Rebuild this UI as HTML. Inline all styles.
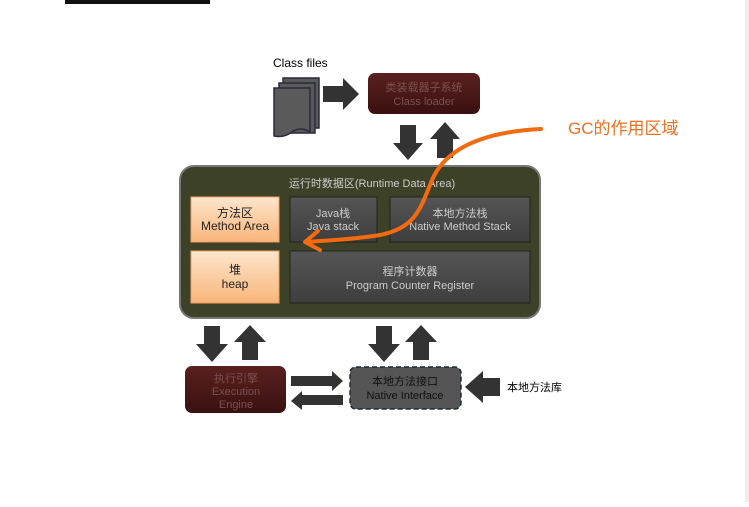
<!DOCTYPE html>
<html><head><meta charset="utf-8"><style>
html,body{margin:0;padding:0;background:#fff;}
svg text{font-family:"Liberation Sans","Noto Sans CJK SC",sans-serif;}
</style></head><body>
<svg width="749" height="502" viewBox="0 0 749 502" xmlns="http://www.w3.org/2000/svg">
<defs>
<linearGradient id="org" x1="0" y1="0" x2="0" y2="1"><stop offset="0" stop-color="#fde6cc"/><stop offset="1" stop-color="#f9b57a"/></linearGradient>
<linearGradient id="gry" x1="0" y1="0" x2="0" y2="1"><stop offset="0" stop-color="#555"/><stop offset="1" stop-color="#3e3e3e"/></linearGradient>
<linearGradient id="red" x1="0" y1="0" x2="0" y2="1"><stop offset="0" stop-color="#5a2020"/><stop offset="1" stop-color="#3a1010"/></linearGradient>
</defs>
<rect x="745" y="0" width="4" height="502" fill="#eee"/>
<rect x="65" y="0" width="145" height="4" fill="#111"/>
<text x="273" y="67" font-size="12" fill="#000">Class files</text>
<!-- files -->
<g fill="#5a5a5a" stroke="#2a2a3a" stroke-width="1.5">
<path d="M283 78h36v50h-36z"/>
<path d="M279 83h36v50h-36z"/>
<path d="M274 88h36v44q-10 -6 -18 0t-18 4z"/>
</g>
<!-- arrow right -->
<polygon points="323,86 343,86 343,78 359,94 343,110 343,102 323,102" fill="#333"/>
<rect x="368" y="73" width="112" height="41" rx="7" fill="url(#red)"/>
<text x="424" y="91" font-size="11" fill="#7a5050" text-anchor="middle">类装载器子系统</text>
<text x="424" y="105" font-size="11" fill="#7a5050" text-anchor="middle">Class loader</text>
<!-- arrows -->
<polygon points="400,125 416,125 416,143 423,143 408,160 393,143 400,143" fill="#333"/>
<polygon points="437,158 453,158 453,139 460,139 445,122 430,139 437,139" fill="#333"/>
<!-- runtime area -->
<rect x="180" y="166" width="360" height="152" rx="14" fill="#3d4127" stroke="#777" stroke-width="2"/>
<text x="372" y="187" font-size="11" fill="#ccc" text-anchor="middle">运行时数据区(Runtime Data Area)</text>
<rect x="191" y="197" width="88" height="45" fill="url(#org)" stroke="#f0a060"/>
<text x="235" y="217" font-size="12" fill="#222" text-anchor="middle">方法区</text>
<text x="235" y="230" font-size="12" fill="#222" text-anchor="middle">Method Area</text>
<rect x="191" y="251" width="88" height="52" fill="url(#org)" stroke="#f0a060"/>
<text x="235" y="274" font-size="12" fill="#222" text-anchor="middle">堆</text>
<text x="235" y="288" font-size="12" fill="#222" text-anchor="middle">heap</text>
<rect x="290" y="197" width="87" height="45" fill="url(#gry)" stroke="#222"/>
<text x="333" y="217" font-size="11" fill="#ccc" text-anchor="middle">Java栈</text>
<text x="333" y="230" font-size="11" fill="#ccc" text-anchor="middle">Java stack</text>
<rect x="390" y="197" width="140" height="45" fill="url(#gry)" stroke="#222"/>
<text x="460" y="217" font-size="11" fill="#ccc" text-anchor="middle">本地方法栈</text>
<text x="460" y="230" font-size="11" fill="#ccc" text-anchor="middle">Native Method Stack</text>
<rect x="290" y="251" width="240" height="52" fill="url(#gry)" stroke="#222"/>
<text x="410" y="275" font-size="11" fill="#ccc" text-anchor="middle">程序计数器</text>
<text x="410" y="289" font-size="11" fill="#ccc" text-anchor="middle">Program Counter Register</text>
<!-- lower arrows -->
<polygon points="204,326 220,326 220,344 228,344 212,362 196,344 204,344" fill="#333"/>
<polygon points="242,360 258,360 258,342 266,342 250,325 234,342 242,342" fill="#333"/>
<polygon points="376,326 392,326 392,344 400,344 384,362 368,344 376,344" fill="#333"/>
<polygon points="413,360 429,360 429,342 437,342 421,325 405,342 413,342" fill="#333"/>
<rect x="185" y="366" width="101" height="47" rx="7" fill="url(#red)"/>
<text x="236" y="382" font-size="11" fill="#7a5050" text-anchor="middle">执行引擎</text>
<text x="236" y="395" font-size="11" fill="#7a5050" text-anchor="middle">Execution</text>
<text x="236" y="408" font-size="11" fill="#7a5050" text-anchor="middle">Engine</text>
<polygon points="291,376 332,376 332,371 343,381 332,391 332,386 291,386" fill="#333"/>
<polygon points="343,395 302,395 302,391 291,401 302,410 302,405 343,405" fill="#333"/>
<rect x="350" y="367" width="111" height="42" rx="6" fill="#555" stroke="#1e2a3a" stroke-width="1.5" stroke-dasharray="5,3"/>
<text x="405" y="385" font-size="11" fill="#111" text-anchor="middle">本地方法接口</text>
<text x="405" y="399" font-size="11" fill="#111" text-anchor="middle">Native Interface</text>
<polygon points="500,378 483,378 483,371 465,387 483,403 483,396 500,396" fill="#333"/>
<text x="507" y="391" font-size="11" fill="#000">本地方法库</text>
<!-- GC -->
<text x="568" y="134" font-size="17" fill="#f07020">GC的作用区域</text>
<path d="M541 129 C480 132 445 150 432 180 C420 210 415 228 380 235 C350 240 330 240 308 242" fill="none" stroke="#f26b10" stroke-width="4" stroke-linecap="round"/>
<path d="M318 231 L305 242 L320 250" fill="none" stroke="#f26b10" stroke-width="4" stroke-linecap="round" stroke-linejoin="round"/>
</svg>
</body></html>
